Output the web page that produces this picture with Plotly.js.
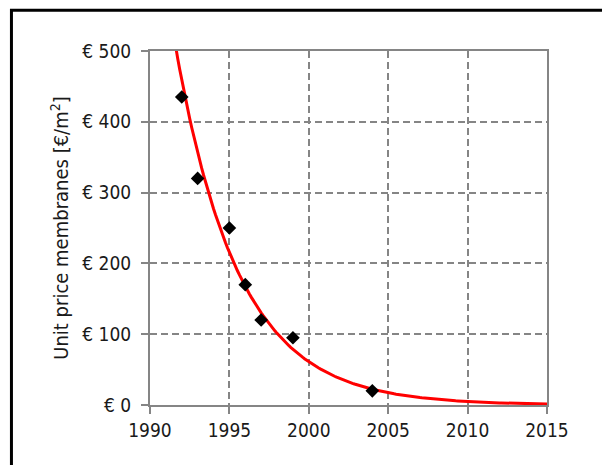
<!DOCTYPE html>
<html>
<head>
<meta charset="utf-8">
<script src="https://cdn.plot.ly/plotly-3.0.1.min.js"></script>
<style>html,body{margin:0;padding:0;background:#fff;}#chart{width:602px;height:465px;}</style>
</head>
<body>
<div id="chart"></div>
<script>
// Data
const years = [1992, 1993, 1995, 1996, 1997, 1999, 2004];
const prices = [435, 320, 250, 170, 120, 95, 20];
const yTickVals = [0, 100, 200, 300, 400, 500];
const yTickText = ['€ 0', '€ 100', '€ 200', '€ 300', '€ 400', '€ 500'];
const xTickVals = [1990, 1995, 2000, 2005, 2010, 2015];
const trendYears = [];
for (let t = 1990; t <= 2015.0001; t += 0.125) trendYears.push(t);

// Exponential trendline (least squares on ln(y)), as a spreadsheet would fit it
const n = years.length;
const lny = prices.map(v => Math.log(v));
const mx = years.reduce((a, b) => a + b, 0) / n;
const my = lny.reduce((a, b) => a + b, 0) / n;
let sxy = 0, sxx = 0;
for (let i = 0; i < n; i++) { sxy += (years[i] - mx) * (lny[i] - my); sxx += (years[i] - mx) ** 2; }
const k = sxy / sxx;
const b0 = my - k * mx;
const trendVals = trendYears.map(t => Math.exp(b0 + k * t));

const FONT = '"DejaVu Sans Condensed", "DejaVu Sans", sans-serif';
const GRID = '#858585';
const TXT = '#1a1a1a';

const traces = [
  {
    x: trendYears, y: trendVals, type: 'scatter', mode: 'lines',
    line: {color: '#ff0000', width: 3}, hoverinfo: 'skip', showlegend: false
  },
  {
    x: years, y: prices, type: 'scatter', mode: 'markers',
    marker: {symbol: 'diamond', size: 10.5, color: '#000000'}, showlegend: false
  }
];

const layout = {
  width: 602, height: 465,
  margin: {l: 150, r: 55, t: 51, b: 60},
  paper_bgcolor: '#ffffff', plot_bgcolor: '#ffffff',
  font: {family: FONT, size: 19, color: TXT},
  showlegend: false,
  xaxis: {
    range: [1990, 2015], tickvals: xTickVals, ticktext: xTickVals.map(String),
    showgrid: true, gridcolor: GRID, gridwidth: 2, griddash: '7px,4px',
    showline: true, linecolor: GRID, linewidth: 2, mirror: true,
    ticks: 'outside', ticklen: 7, tickwidth: 2, tickcolor: GRID,
    zeroline: false, tickfont: {family: FONT, size: 19, color: TXT}
  },
  yaxis: {
    range: [0, 500], tickvals: yTickVals, ticktext: yTickText,
    showgrid: true, gridcolor: GRID, gridwidth: 2, griddash: '7px,4px',
    showline: true, linecolor: GRID, linewidth: 2, mirror: true,
    ticks: 'outside', ticklen: 7, tickwidth: 2, tickcolor: GRID,
    ticklabelstandoff: 6,
    zeroline: false, tickfont: {family: FONT, size: 19, color: TXT},
    title: {text: 'Unit price membranes [€/m<sup>2</sup>]', font: {family: FONT, size: 20, color: TXT}, standoff: 8}
  },
  shapes: [
    {
      type: 'path', xref: 'paper', yref: 'paper',
      path: 'M -0.349 -0.3 L -0.349 1.115 L 1.3 1.115',
      line: {color: '#000000', width: 3}, layer: 'above'
    }
  ]
};

Plotly.newPlot('chart', traces, layout, {staticPlot: true, displayModeBar: false});
</script>
</body>
</html>
